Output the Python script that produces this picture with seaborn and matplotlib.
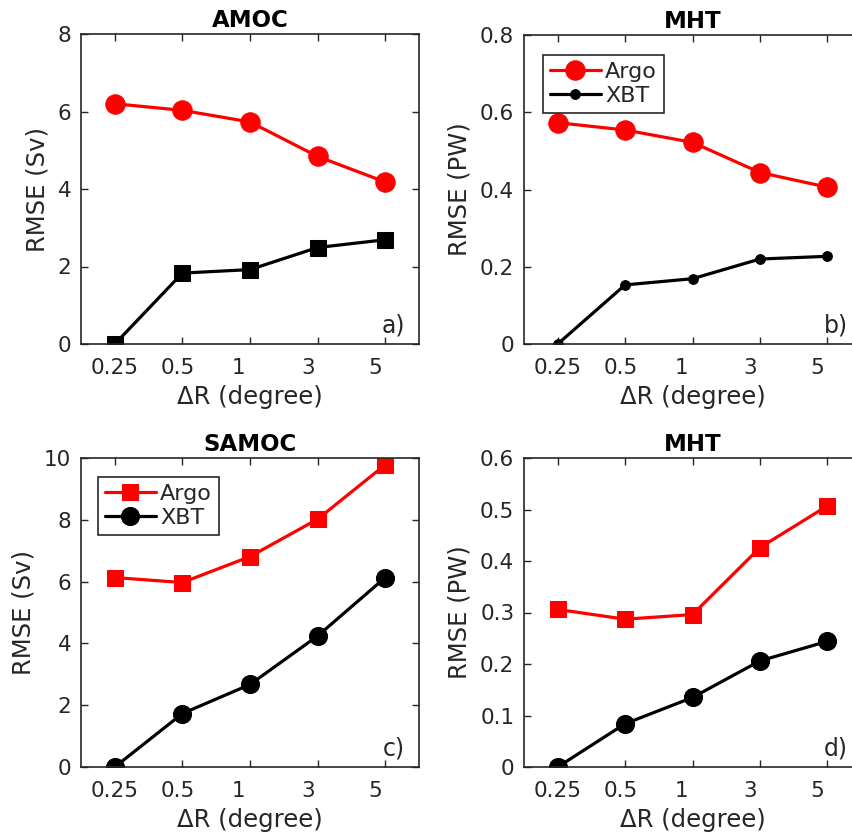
import numpy as np
import pandas as pd
import matplotlib
matplotlib.use("Agg")
import matplotlib.pyplot as plt
import matplotlib.transforms as mtransforms
from matplotlib.ticker import FuncFormatter
import seaborn as sns

# ---------------- data ----------------
categories = ["0.25", "0.5", "1", "3", "5"]

a_argo = [6.20, 6.03, 5.73, 4.84, 4.18]
a_xbt = [0.00, 1.83, 1.92, 2.49, 2.69]

b_argo = [0.573, 0.554, 0.522, 0.444, 0.406]
b_xbt = [0.000, 0.153, 0.169, 0.220, 0.227]

c_argo = [6.13, 5.97, 6.81, 8.02, 9.78]
c_xbt = [0.00, 1.73, 2.67, 4.24, 6.13]

d_argo = [0.306, 0.287, 0.296, 0.426, 0.507]
d_xbt = [0.000, 0.084, 0.135, 0.206, 0.244]

titles = ["AMOC", "MHT", "SAMOC", "MHT"]
ylabels = ["RMSE (Sv)", "RMSE (PW)", "RMSE (Sv)", "RMSE (PW)"]
letters = ["a)", "b)", "c)", "d)"]
yticks = [[0, 2, 4, 6, 8], [0, 0.2, 0.4, 0.6, 0.8],
          [0, 2, 4, 6, 8, 10], [0, 0.1, 0.2, 0.3, 0.4, 0.5, 0.6]]
xlabel = "\u0394R (degree)"

# ---------------- style ----------------
sns.set_theme(style="ticks")
plt.rcParams["font.family"] = ["DejaVu Sans"]
plt.rcParams["text.color"] = "#262626"
plt.rcParams["axes.labelcolor"] = "#262626"
plt.rcParams["xtick.color"] = "#262626"
plt.rcParams["ytick.color"] = "#262626"

fig = plt.figure(figsize=(8.52, 8.32), dpi=100)
W, H = 852.0, 832.0

def axes_at(left, top, right, bottom):
    return fig.add_axes([left / W, (H - bottom) / H, (right - left) / W, (bottom - top) / H])

axs = [axes_at(81, 34, 419, 344), axes_at(524, 35, 861, 344),
       axes_at(81, 458, 419, 767), axes_at(524, 458, 861, 767)]

panels = [(a_argo, a_xbt), (b_argo, b_xbt), (c_argo, c_xbt), (d_argo, d_xbt)]
# marker styles: (argo marker, argo size, xbt marker, xbt size)
mstyles = [("o", 14, "s", 11), ("o", 14, "o", 7), ("s", 11, "o", 13), ("s", 11, "o", 13)]

RED = "#ff0000"
BLACK = "#000000"
xpos = np.arange(len(categories)) + 1
label_dx = [0, -3, -8, -7, -7]

for i, ax in enumerate(axs):
    argo, xbt = panels[i]
    df = pd.DataFrame({"pos": xpos, "Argo": argo, "XBT": xbt})
    am, asz, xm, xsz = mstyles[i]
    sns.lineplot(data=df, x="pos", y="Argo", ax=ax, color=RED, marker=am,
                 markersize=asz, markeredgecolor=RED, linewidth=2.3, label="Argo")
    sns.lineplot(data=df, x="pos", y="XBT", ax=ax, color=BLACK, marker=xm,
                 markersize=xsz, markeredgecolor=BLACK, linewidth=2.3, label="XBT")
    ax.set_xlim(0.5, 5.5)
    ax.set_ylim(yticks[i][0], yticks[i][-1])
    ax.set_xticks(xpos)
    ax.set_xticklabels(categories)
    ax.set_yticks(yticks[i])
    ax.yaxis.set_major_formatter(FuncFormatter(lambda v, p: "%g" % v))
    ax.tick_params(direction="in", length=5, width=1.0, labelsize=15.5,
                   top=True, right=True, pad=7)
    ax.tick_params(axis="x", pad=10)
    for sp in ax.spines.values():
        sp.set_visible(True)
        sp.set_color("#262626")
        sp.set_linewidth(1.2)
    for lab, dx in zip(ax.get_xticklabels(), label_dx):
        lab.set_transform(lab.get_transform() +
                          mtransforms.ScaledTranslation(dx / 72.0, 0, fig.dpi_scale_trans))
    ax.set_title(titles[i], fontsize=16.5, fontweight="bold", color="black", pad=5)
    ax.set_xlabel(xlabel, fontsize=17.5, labelpad=5)
    ax.set_ylabel(ylabels[i], fontsize=17.5, labelpad=6)
    ax.text(0.925, 0.06, letters[i], transform=ax.transAxes, fontsize=17,
            ha="center", va="center", color="#262626")
    if i in (1, 2):
        anchor = (0.056, 0.935) if i == 1 else (0.05, 0.938)
        leg = ax.legend(loc="upper left", bbox_to_anchor=anchor, borderaxespad=0,
                        fontsize=16, frameon=True, fancybox=False, handlelength=2.3,
                        handletextpad=0.2, borderpad=0.3, labelspacing=0.2)
        leg.get_frame().set_edgecolor("#262626")
        leg.get_frame().set_linewidth(1.2)
        leg.get_frame().set_alpha(1)
    else:
        ax.get_legend().remove()

fig.savefig("out.png", dpi=100)
